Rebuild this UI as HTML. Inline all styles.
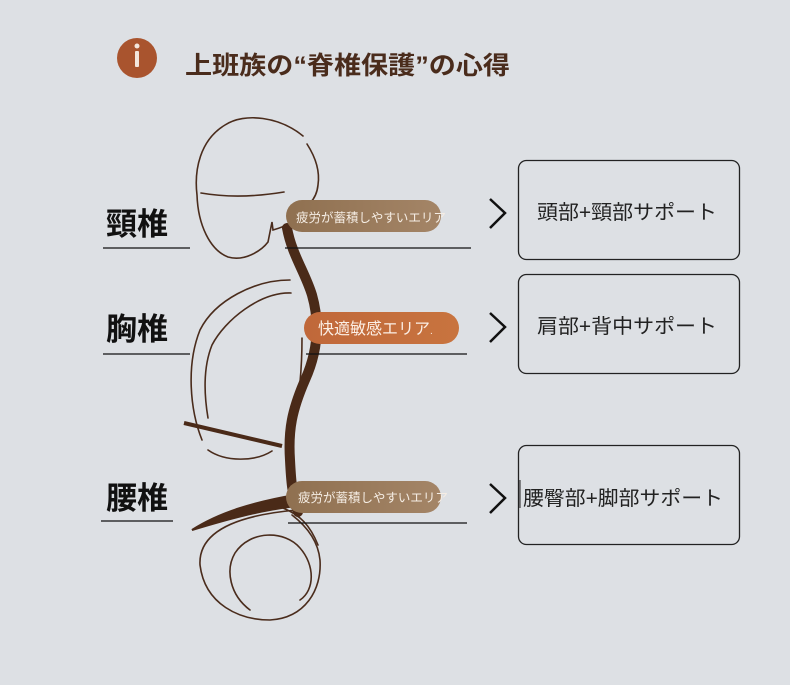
<!DOCTYPE html>
<html><head><meta charset="utf-8"><style>
html,body{margin:0;padding:0;background:#dde0e4;}
svg{display:block}
text{font-family:"Liberation Sans","Noto Sans CJK JP",sans-serif}
</style></head><body>
<svg width="790" height="685" viewBox="0 0 790 685" xmlns="http://www.w3.org/2000/svg">
<defs>
<linearGradient id="g1" x1="0" x2="1"><stop offset="0" stop-color="#8f7050"/><stop offset="1" stop-color="#a48567"/></linearGradient>
<linearGradient id="g2" x1="0" x2="1"><stop offset="0" stop-color="#c0683a"/><stop offset="1" stop-color="#c8743f"/></linearGradient>
</defs>
<rect width="790" height="685" fill="#dde0e4"/>
<circle cx="137" cy="58" r="20" fill="#a9542e"/>
<circle cx="137" cy="46" r="2.5" fill="#f3e6dc"/>
<rect x="135" y="51" width="4" height="16" rx="1" fill="#f3e6dc"/>
<text x="185" y="74" font-size="25" font-weight="bold" fill="#4a2c1c" textLength="325" lengthAdjust="spacingAndGlyphs">上班族の“脊椎保護”の心得</text>

<g fill="none" stroke="#4a2c1c" stroke-width="1.6" stroke-linecap="round">
<path d="M303,136 C280,117 245,112 225,125 C200,140 194,170 197,195 C198,225 210,250 228,257 C245,262 262,250 268,242 L272,222 L273,230 C280,228 286,226 292,222"/>
<path d="M307,144 C316,158 320,172 318,185 C317,195 313,200 310,203"/>
<path d="M201,193 C230,198 260,196 284,192"/>
<path d="M290,280 C255,280 215,300 200,330 C186,365 190,410 202,440"/>
<path d="M291,293 C260,292 225,320 212,345 C202,370 205,400 208,418"/>
<path d="M208,450 C225,462 255,462 272,451"/>
<path d="M302,338 C302,360 301,378 298,399"/>
<path d="M297,510 C240,515 198,530 200,565 C205,605 240,620 270,620 C305,618 322,590 320,560 C318,540 305,525 292,515"/>
<path d="M250,610 C230,595 225,570 235,553 C250,530 285,530 300,548 C315,565 315,590 300,600"/>
<path d="M283,508 C300,515 310,525 318,545"/>
</g>
<path d="M287,228 C292,255 305,272 312,295 C322,330 314,360 305,380 C292,410 288,430 290,460 C291,480 292,495 298,512" fill="none" stroke="#4a2a18" stroke-width="10" stroke-linecap="round"/>
<path d="M184,423 L282,446" stroke="#4a2a18" stroke-width="4"/>
<path d="M192,530 C220,512 255,502 295,495 L297,506 C260,510 225,520 192,530 Z" fill="#4a2a18" stroke="#4a2a18" stroke-width="2"/>

<rect x="286" y="200" width="155" height="32" rx="16" fill="url(#g1)"/>
<text x="296" y="222" font-size="12.5" fill="#f5ede4">疲労が蓄積しやすいエリア</text>
<rect x="304" y="312" width="155" height="32" rx="16" fill="url(#g2)"/>
<text x="318" y="334" font-size="16" fill="#fbeee4">快適敏感エリア<tspan font-size="10">.</tspan></text>
<rect x="286" y="481" width="155" height="32" rx="16" fill="url(#g1)"/>
<text x="298" y="502" font-size="12.5" fill="#f5ede4">疲労が蓄積しやすいエリア</text>

<g stroke="#111" stroke-width="1.2">
<line x1="103" y1="248" x2="190" y2="248"/>
<line x1="103" y1="354" x2="190" y2="354"/>
<line x1="101" y1="521" x2="173" y2="521"/>
<line x1="285" y1="248" x2="471" y2="248"/>
<line x1="306" y1="354" x2="467" y2="354"/>
<line x1="288" y1="523" x2="467" y2="523"/>
</g>
<text x="106" y="235" font-size="31" font-weight="bold" fill="#111">頸椎</text>
<text x="106" y="340" font-size="31" font-weight="bold" fill="#111">胸椎</text>
<text x="106" y="509" font-size="31" font-weight="bold" fill="#111">腰椎</text>

<g fill="none" stroke="#111" stroke-width="2.5">
<path d="M490,199 L505,213 L490,228"/>
<path d="M490,313 L505,327 L490,342"/>
<path d="M490,484 L505,498 L490,513"/>
</g>
<g fill="none" stroke="#222" stroke-width="1.3">
<rect x="518.5" y="160.5" width="221" height="99" rx="8"/>
<rect x="518.5" y="274.5" width="221" height="99" rx="8"/>
<rect x="518.5" y="445.5" width="221" height="99" rx="8"/>
</g>
<line x1="520" y1="480" x2="520" y2="508" stroke="#222" stroke-width="1"/>
<text x="537" y="219" font-size="20" fill="#222" textLength="180" lengthAdjust="spacingAndGlyphs">頭部+頸部サポート</text>
<text x="537" y="333" font-size="20" fill="#222" textLength="180" lengthAdjust="spacingAndGlyphs">肩部+背中サポート</text>
<text x="523" y="505" font-size="20" fill="#222" textLength="200" lengthAdjust="spacingAndGlyphs">腰臀部+脚部サポート</text>
</svg>
</body></html>
